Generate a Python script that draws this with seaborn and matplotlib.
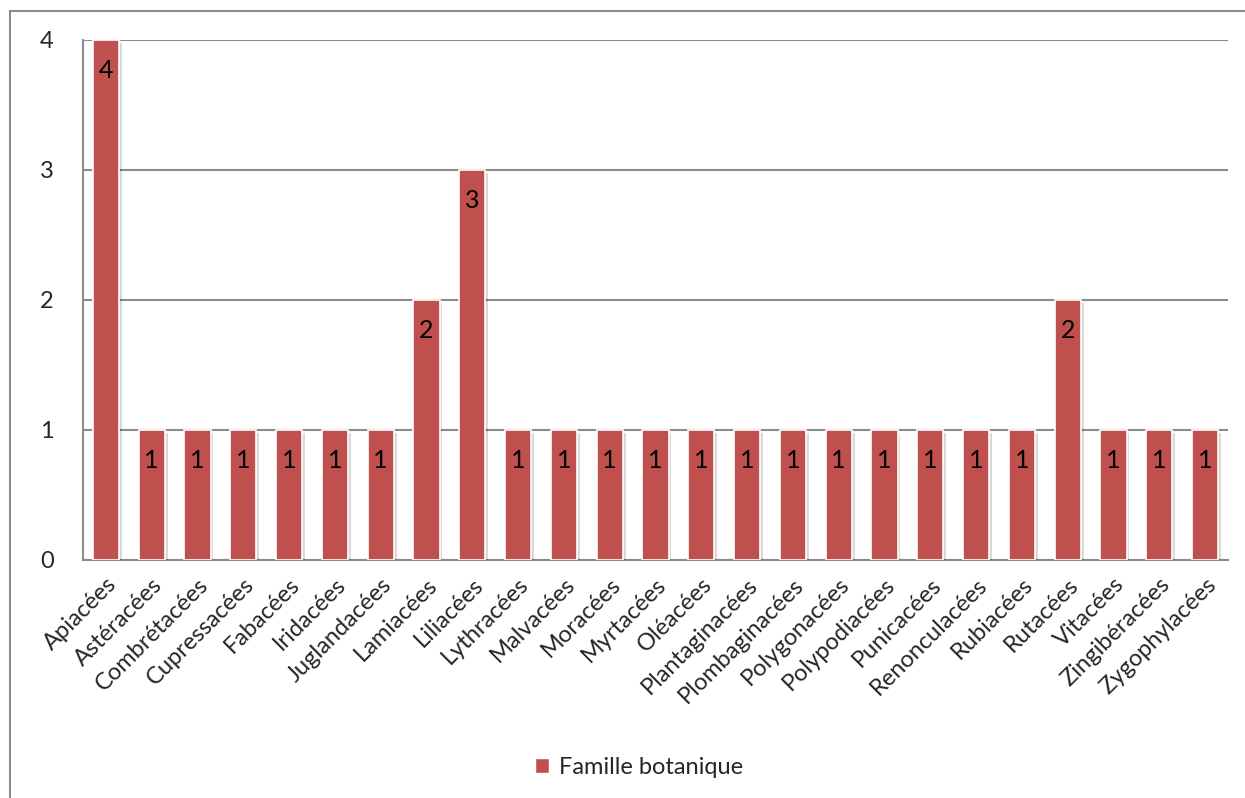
import matplotlib
matplotlib.use("Agg")
import matplotlib.pyplot as plt
import matplotlib.patheffects as pe
from matplotlib.patches import Patch, Rectangle
import seaborn as sns
import pandas as pd

familles = ["Apiacées", "Astéracées", "Combrétacées", "Cupressacées", "Fabacées",
            "Iridacées", "Juglandacées", "Lamiacées", "Liliacées", "Lythracées",
            "Malvacées", "Moracées", "Myrtacées", "Oléacées", "Plantaginacées",
            "Plombaginacées", "Polygonacées", "Polypodiacées", "Punicacées",
            "Renonculacées", "Rubiacées", "Rutacées", "Vitacées", "Zingibéracées",
            "Zygophylacées"]
effectifs = [4, 1, 1, 1, 1, 1, 1, 2, 3, 1, 1, 1, 1, 1, 1, 1, 1, 1, 1, 1, 1, 2, 1, 1, 1]
serie = "Famille botanique"
yticks = [0, 1, 2, 3, 4]

bar_color = "#C0504D"
grid_color = "#8C8C8C"
fs = 17

sns.set_theme(style="white")
plt.rcParams["font.family"] = ["Lato", "DejaVu Sans"]

df = pd.DataFrame({"famille": familles, "n": effectifs})

fig = plt.figure(figsize=(12.45, 7.98), dpi=100)
ax = fig.add_axes([83 / 1245, 1 - 560 / 798, (1228 - 83) / 1245, (560 - 40) / 798])

sns.barplot(data=df, x="famille", y="n", color=bar_color, saturation=1,
            width=0.57, edgecolor="white", linewidth=1.2, ax=ax, zorder=3)

for p in ax.patches:
    p.set_path_effects([pe.SimplePatchShadow(offset=(2, -2), shadow_rgbFace="#000000", alpha=0.15),
                        pe.Normal()])

# value labels just inside the top of each bar
for i, v in enumerate(effectifs):
    ax.annotate(str(v), xy=(i, v), xytext=(0, -14), textcoords="offset points",
                ha="center", va="top", fontsize=fs + 1, color="black", zorder=4)

ax.set_ylim(0, 4)
ax.set_xlim(-0.5, len(familles) - 0.5)
ax.set_yticks(yticks)
ax.set_yticklabels([str(t) for t in yticks], fontsize=fs)
ax.tick_params(axis="y", length=0, pad=21)
ax.tick_params(axis="x", length=0, pad=10)
ax.set_xticks(range(len(familles)))
ax.set_xticklabels(familles, rotation=45, ha="right", va="top",
                   rotation_mode="anchor", fontsize=fs)
ax.set_xlabel("")
ax.set_ylabel("")

ax.yaxis.grid(True, color=grid_color, linewidth=1.5, zorder=0)
ax.set_axisbelow(True)
for side in ["top", "right"]:
    ax.spines[side].set_visible(False)
for side in ["left", "bottom"]:
    ax.spines[side].set_color(grid_color)
    ax.spines[side].set_linewidth(1.5)

fig.legend(handles=[Patch(facecolor=bar_color, edgecolor="white", label=serie)],
           loc="center", bbox_to_anchor=(639 / 1245, 1 - 767 / 798), frameon=False,
           fontsize=fs, handlelength=0.6, handleheight=0.6, handletextpad=0.4)

# chart frame (open at right and bottom edges of the canvas)
fig.patches.append(Rectangle((9.5 / 1245, -0.05), 1.2, 1 - 10.5 / 798 + 0.05,
                             transform=fig.transFigure, fill=False,
                             edgecolor="#8C8C8C", linewidth=1.5))

fig.savefig("out.png", dpi=100)
